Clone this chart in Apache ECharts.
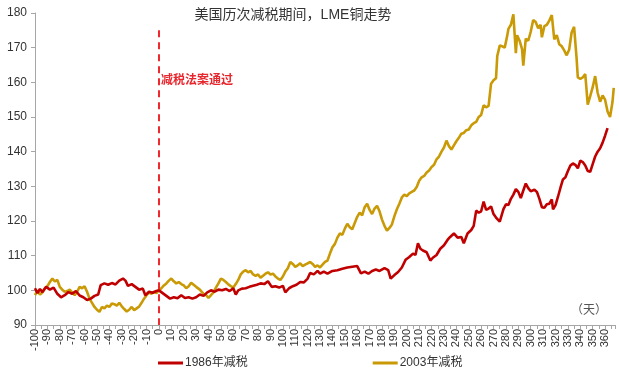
<!DOCTYPE html>
<html>
<head>
<meta charset="UTF-8">
<title>美国历次减税期间，LME铜走势</title>
<script src="https://cdn.jsdelivr.net/npm/echarts@6/dist/echarts.min.js"></script>
<style>
  html, body { margin: 0; padding: 0; background: #fff; }
  #main { width: 619px; height: 377px; }
</style>
</head>
<body>
<div id="main"></div>
<script>
// 1986年减税：距减税法案通过的天数 / 铜价指数
var days1986 = [-100,-98,-96,-94,-91,-88,-85,-82,-79,-76,-73,-70,-67,-64,-61,-58,-55,-52,-49,-47,-44,-41,-38,-35,-32,-29,-27,-25,-22,-19,-16,-13,-11,-8,-5,-2,
  0,3,6,9,12,15,18,21,24,27,30,33,36,39,42,45,48,51,54,57,60,62,64,67,70,73,76,79,82,85,88,91,94,97,100,102,105,108,111,114,117,120,122,125,128,130,133,136,140,144,148,152,156,160,
  163,166,169,172,175,178,182,185,187,190,193,196,199,202,205,207,209,211,213,216,219,221,224,227,230,233,235,238,241,244,246,249,252,254,256,258,260,262,264,266,268,270,272,275,278,280,
  282,284,286,288,290,292,294,296,298,300,303,305,307,309,311,313,315,317,318,320,322,324,326,328,330,332,334,336,338,340,342,344,346,348,350,352,354,356,358,360,362];
var copper1986 = [100.6,99.2,100.4,99.5,101,100.2,100.8,99,98,98.6,99.5,99,99.8,98.5,98,97.2,97.6,98.4,98.8,101.5,102,101.6,102.1,101.7,102.8,103.4,102.8,101.3,101.8,101,100.2,100.5,98.6,99.6,99.3,99.8,
  100,99.2,98.4,97.6,98,97.7,98.6,97.8,98,97.6,98,98.8,98.4,99.4,100,99.6,100.2,100,100.4,99.8,100.6,98.8,100,100.5,100.6,101,101.3,101.6,102,101.8,102.6,101,101.2,100.8,101.3,99.4,100.6,101.2,101.6,102.4,102.3,103.4,105,104.6,105.6,104.8,105.4,104.8,105.6,105.8,106.2,106.6,106.8,107,
  104.9,105.4,104.8,105.6,106,105.6,106.4,105.8,103.4,104.4,105.3,106.6,108.8,109.6,110.6,110.2,113.6,112,111.5,111,108.6,109.4,110.2,112,113,114.6,115.4,116.4,115.2,115.4,113.6,116.4,117.4,118.6,123,122.4,122.8,125.6,123.2,123.6,124.2,122,121,119.8,123.4,124.8,
  124.6,126.4,127.6,129.2,128.4,126.6,128.8,130.8,129.5,128.6,129,128.4,126.4,124,123.8,124.8,125,126.2,123.4,124.6,127,129.6,132,132.6,134.4,136,136.6,136.2,135.2,137.4,137,136,134.4,134.2,136.4,138.6,140,141,142.6,144.6,146.8];

// 2003年减税
var days2003 = [-100,-98,-96,-94,-92,-90,-88,-86,-84,-82,-80,-78,-76,-74,-72,-70,-68,-66,-64,-62,-60,-58,-56,-54,-52,-50,-48,-46,-44,-42,-40,-38,-36,-34,-32,-30,-28,-26,-24,-22,-20,-18,-16,-14,-12,-10,-8,-6,-4,-2,
  0,2,4,6,8,10,12,14,16,18,20,22,24,26,28,30,33,36,38,40,42,44,46,48,50,52,54,56,58,60,62,64,66,68,70,72,74,76,78,80,82,84,86,88,90,92,94,96,98,
  100,102,104,106,108,110,112,114,116,118,120,122,124,126,128,130,132,134,136,138,140,142,144,146,148,150,152,154,156,158,160,162,164,166,168,170,172,174,176,178,180,182,184,186,188,190,192,194,196,198,
  200,202,204,206,208,210,212,214,216,218,220,222,224,226,228,230,232,234,236,238,240,242,244,246,248,250,252,254,256,258,260,262,264,266,268,270,272,273,275,277,279,281,282,284,286,287,288,289,291,293,294,296,298,
  300,302,304,306,308,309,311,313,315,317,319,321,323,325,327,329,331,333,335,337,338,340,342,344,346,348,350,352,354,356,358,360,362,364,366,367];
var copper2003 = [98.6,100,98.8,99.4,100.6,101.2,102.4,103.4,102.6,103,101,100.2,99.6,99.8,100.2,99.4,98.6,99.6,101,100.6,101.2,99.6,97.6,96.4,95.2,94.4,93.8,95.2,94.8,95.6,95.2,96.2,96,95.6,96.4,95.4,94.6,93.9,94.4,95.2,94.3,94.8,95.3,96.4,97.6,98.6,99.4,99,99.6,99.2,
  100,100.6,101.4,102,102.8,103.4,102.6,102,102.4,101.8,101.4,100.6,101.2,102.2,101.6,101,100.2,99,98.6,97.8,98.6,99.4,100.8,102,103.4,103,102.4,101.7,101.2,100.8,101.8,103,104.6,105.4,105.8,105.2,105.6,104.6,104.2,104.6,103.6,104.2,104.8,105.2,104.6,104.8,104,103.4,103,
  104,105.4,106.4,108.2,107.6,106.8,107.2,107.8,107,107.4,107.8,108.2,107.6,106.8,107.2,106.6,107.4,108.2,108.6,110.6,112.4,113.4,115.2,116.4,116,117.8,119.2,118.2,117.6,119.4,121.2,122.4,121.6,124,125,123.2,122,123.6,124.4,122.8,120.4,118.6,117.2,118,119,121.4,123.4,125,126.8,127.6,
  127.2,128,128.4,128.8,129.8,131.6,132.6,133,134,134.6,135.6,136.2,137.8,138.6,140,141.2,143.2,141.6,140.6,141.8,143,144,145.2,145.4,146.2,146.4,147.6,148.2,148.6,150,150.6,153.4,152.8,153.2,159.6,160.6,161.2,167.6,170.6,170.4,170,173.4,175.4,176.6,179.6,174,168.4,173.6,172,169.6,164.8,172.6,172,
  174.6,178,177.4,175.6,176.6,173,176.2,176.6,177.8,179.4,172.4,173.6,171,170.4,169.2,167.8,169.4,174.4,176,167,161.4,161,161.4,162.4,153.6,156,158.6,161.8,157,154.4,156.2,155,151.6,150,154.4,158.4];

var seriesNames = ['1986年减税', '2003年减税'];
var passDay = 0;
var passLabel = '减税法案通过';

function pairs(xs, ys) {
  var out = [];
  for (var i = 0; i < xs.length; i++) out.push([xs[i], ys[i]]);
  return out;
}

var font = "'Liberation Sans', 'Noto Sans CJK SC', sans-serif";
var chart = echarts.init(document.getElementById('main'));
var option = {
  animation: false,
  textStyle: { fontFamily: font },
  title: {
    text: '美国历次减税期间，LME铜走势',
    left: 288, textAlign: 'center', top: 3,
    textStyle: { fontSize: 14, fontWeight: 'normal', color: '#333', fontFamily: font }
  },
  legend: {
    left: 158, top: 357, itemGap: 125, padding: 0,
    itemWidth: 25, itemHeight: 3, icon: 'rect',
    textStyle: { fontSize: 12, color: '#333', fontFamily: font, padding: [0, 0, 0, -3] },
    data: seriesNames
  },
  grid: { left: 35, right: 4, top: 13, bottom: 52 },
  xAxis: {
    type: 'value', min: -100, max: 368, interval: 10,
    splitLine: { show: false },
    axisLine: { lineStyle: { color: '#a6a6a6' } },
    axisTick: { length: 4, lineStyle: { color: '#a6a6a6' } },
    minorTick: { show: true, splitNumber: 2, length: 4, lineStyle: { color: '#a6a6a6' } },
    axisLabel: {
      rotate: 90, fontSize: 11, color: '#333', margin: 4,
      formatter: function (v) { return v % 10 === 0 ? String(v) : ''; }
    }
  },
  yAxis: {
    type: 'value', min: 90, max: 180, interval: 10,
    splitLine: { show: false },
    axisLine: { show: true, onZero: false, lineStyle: { color: '#a6a6a6' } },
    axisTick: { show: true, length: 4, lineStyle: { color: '#a6a6a6' } },
    axisLabel: { fontSize: 12, color: '#333', margin: 8 }
  },
  graphic: [{
    type: 'text', right: 12, top: 305,
    style: { text: '（天）', fontSize: 12, fill: '#555', fontFamily: font }
  }],
  series: [{
    name: seriesNames[0], type: 'line', showSymbol: false, symbol: 'none',
    color: '#c00000', lineStyle: { width: 2.6, color: '#c00000' },
    data: pairs(days1986, copper1986), z: 3,
    markLine: {
      silent: true, symbol: 'none',
      lineStyle: { color: '#ee2a2f', type: [7, 5], width: 2 },
      label: { show: false },
      data: [[{ coord: [passDay, 175] }, { coord: [passDay, 90] }]]
    },
    markPoint: {
      symbol: 'circle', symbolSize: 0,
      label: {
        show: true, position: 'right', distance: 2,
        formatter: passLabel, color: '#e8262d', fontSize: 12, fontWeight: 'bold', fontFamily: font
      },
      data: [{ coord: [passDay, 160.5] }]
    }
  }, {
    name: seriesNames[1], type: 'line', showSymbol: false, symbol: 'none',
    color: '#c99a06', lineStyle: { width: 2.6, color: '#c99a06' },
    data: pairs(days2003, copper2003), z: 2
  }]
};
chart.setOption(option);
</script>
</body>
</html>
